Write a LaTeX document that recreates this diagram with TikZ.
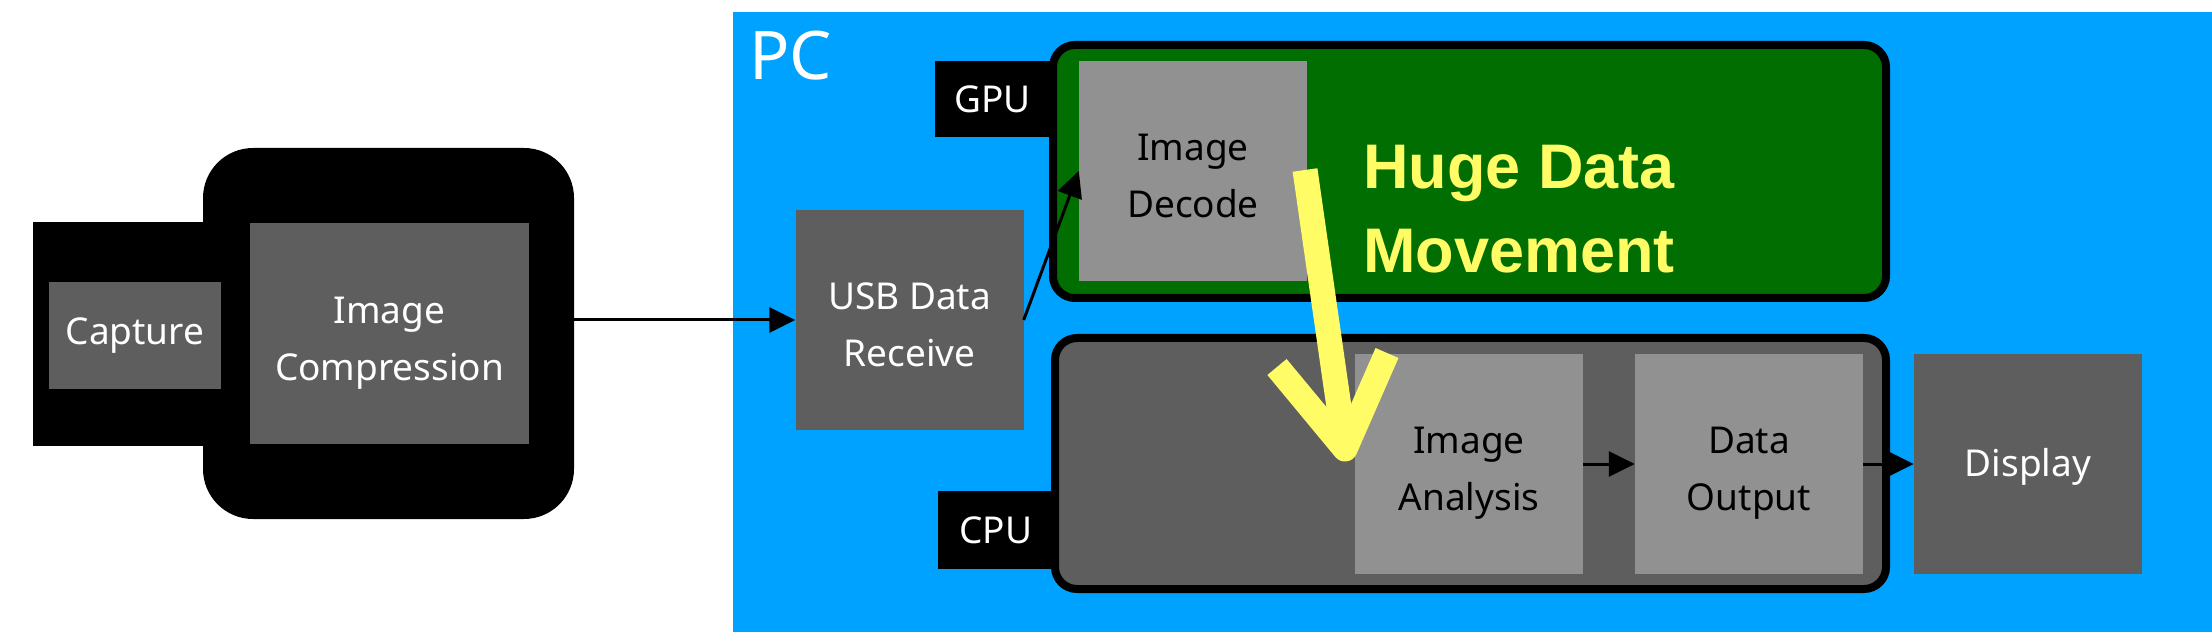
\documentclass[tikz,border=0pt]{standalone}
\usepackage{fontspec}
\setmainfont{Noto Sans}
\newfontfamily\hdmfont{Liberation Sans}
\usetikzlibrary{arrows.meta,calc}
\definecolor{pcblue}{HTML}{00A2FF}
\definecolor{ggreen}{HTML}{006E00}
\definecolor{dgray}{HTML}{5E5E5E}
\definecolor{lgray}{HTML}{919191}
\definecolor{yel}{HTML}{FFFC66}
\newcommand\tln[2]{\raisebox{-7pt}[\height][\depth]{\begin{tabular}{@{}c@{}}#1\\#2\end{tabular}}}
\tikzset{
  boxbase/.style={inner sep=0pt, minimum width=228pt, minimum height=220pt, font=\fontsize{37}{57}\selectfont},
  dbox/.style={boxbase, fill=dgray, text=white},
  lbox/.style={boxbase, fill=lgray, text=black},
  tagbox/.style={fill=black, text=white, inner sep=0pt, font=\fontsize{37}{55}\selectfont},
  unitbox/.style={draw=black, line width=8pt, rounded corners=22pt, inner sep=0pt},
  conn/.style={line width=3pt, -{Triangle[length=26pt,width=25pt]}},
  yarrow/.style={draw=yel, line width=25pt}
}
\begin{document}
\begin{tikzpicture}[x=1pt,y=-1pt]
\useasboundingbox (0,0) rectangle (2212,644);
% PC area
\node[fill=pcblue, minimum width=1479pt, minimum height=620pt, inner sep=0pt] (pc) at (1472.5,322) {};
\node[anchor=base west, text=white, font=\fontsize{67}{67}\selectfont, inner sep=0pt] (pclabel) at (749,80) {PC};
% camera
\node[fill=black, minimum width=177pt, minimum height=224pt, inner sep=0pt] (cam) at (121.5,334) {};
\node[fill=black, rounded corners=50pt, minimum width=371pt, minimum height=371pt, inner sep=0pt] (body) at (388.5,333.5) {};
\node[dbox, minimum width=172pt, minimum height=106pt] (capture) at (135,335.5) {Capture};
\node[dbox, minimum width=279pt, minimum height=221pt] (comp) at (389.5,333.5) {\tln{Image}{Compression}};
% USB
\node[dbox] (usb) at (909.5,320) {\tln{USB Data}{Receive}};
% GPU
\node[tagbox, minimum width=115pt, minimum height=76pt] (gputag) at (992.5,99) {GPU};
\node[unitbox, fill=ggreen, minimum width=833pt, minimum height=253pt] (gpu) at (1469.5,171.5) {};
\node[lbox] (decode) at (1193,171) {\tln{Image}{Decode}};
\node[anchor=north west, align=left, text=yel, font=\hdmfont\bfseries\fontsize{63}{84}\selectfont, inner sep=0pt] (hdm) at (1363,145) {Huge Data\\Movement};
% CPU
\node[tagbox, minimum width=116pt, minimum height=78pt] (cputag) at (996,530) {CPU};
\node[unitbox, fill=dgray, minimum width=831pt, minimum height=251pt] (cpu) at (1470.5,463.5) {};
\node[lbox] (analysis) at (1469,464) {\tln{Image}{Analysis}};
\node[lbox] (output) at (1749,464) {\tln{Data}{Output}};
\node[dbox] (display) at (2028,464) {\raisebox{-3pt}[\height][\depth]{Display}};
% connectors
\draw[conn] (body.east |- usb.west) -- (usb.west);
\draw[conn] (usb.east) -- (decode.west);
\draw[conn] (analysis.east) -- (output.west);
\draw[conn] (output.east) -- (display.west);
% yellow arrow
\coordinate (ys) at (1305,170);
\coordinate (yt) at (1345,449);
\coordinate (yl) at (1277,367);
\coordinate (yr) at (1387,353);
\draw[yarrow] (ys) -- ($(ys)!0.95!(yt)$);
\draw[yarrow, line join=round] (yl) -- (yt) -- (yr);
\end{tikzpicture}
\end{document}
